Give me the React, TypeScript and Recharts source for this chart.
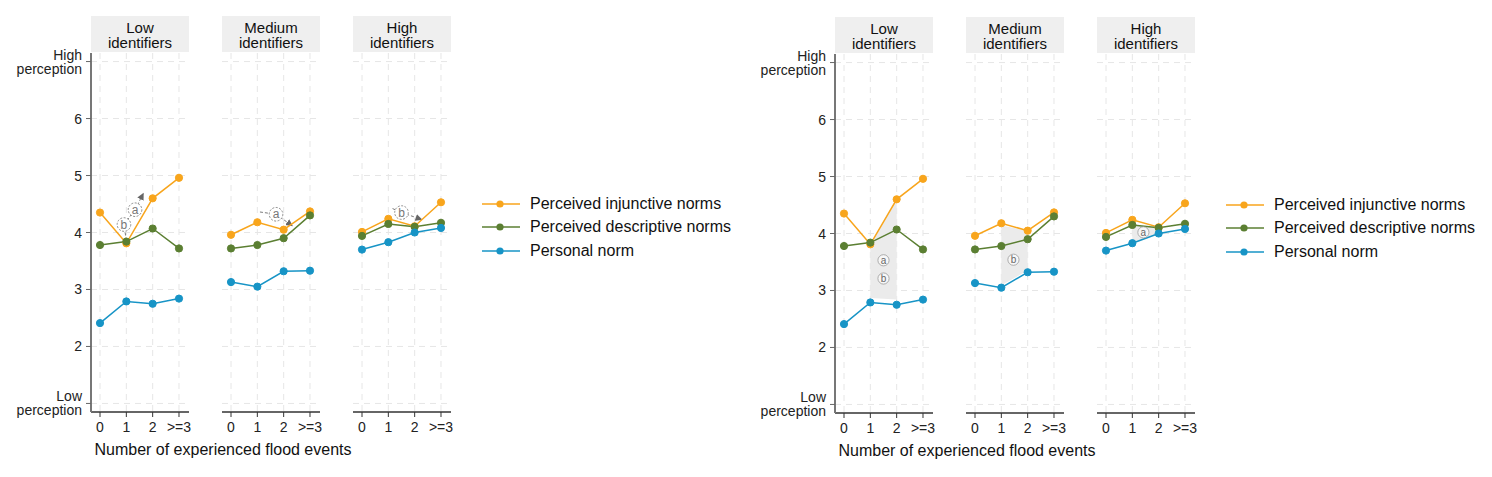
import React from 'react'
import {
  ComposedChart,
  Line,
  Area,
  XAxis,
  YAxis,
  CartesianGrid,
  ReferenceLine,
  ReferenceDot,
} from 'recharts'

const FONT = '"Liberation Sans", Arial, Helvetica, sans-serif'

// ---- data ----
const facetTitles = [
  ['Low', 'identifiers'],
  ['Medium', 'identifiers'],
  ['High', 'identifiers'],
]
const xValues = [0, 1, 2, 3]
const xLabels = ['0', '1', '2', '>=3']
const yTicks = [1, 2, 3, 4, 5, 6, 7]
const yTickLabels: Record<number, string[]> = {
  7: ['High', 'perception'],
  6: ['6'],
  5: ['5'],
  4: ['4'],
  3: ['3'],
  2: ['2'],
  1: ['Low', 'perception'],
}

const injunctive = [
  [4.35, 3.81, 4.6, 4.96],
  [3.96, 4.18, 4.05, 4.37],
  [4.01, 4.24, 4.11, 4.53],
]
const descriptive = [
  [3.78, 3.84, 4.07, 3.72],
  [3.72, 3.78, 3.9, 4.3],
  [3.94, 4.15, 4.1, 4.17],
]
const personal = [
  [2.41, 2.79, 2.75, 2.84],
  [3.13, 3.05, 3.32, 3.33],
  [3.7, 3.83, 4.0, 4.08],
]

// right panel: shaded band between x=1 and x=2, [low, high]
const shadeBands: ([number, number] | null)[][] = [
  [null, [2.87, 3.82], [2.84, 4.6], null],
  [null, [3.09, 4.14], [3.35, 4.05], null],
  [null, [3.83, 4.15], [4.0, 4.1], null],
]
const shadeLabels = [
  { facet: 0, x: 1.5, y: 3.53, label: 'a' },
  { facet: 0, x: 1.5, y: 3.21, label: 'b' },
  { facet: 1, x: 1.46, y: 3.54, label: 'b' },
  { facet: 2, x: 1.42, y: 4.02, label: 'a' },
]

// left panel: dashed arrows with dashed circled letters
const arrowPaths: number[][][] = [
  [[1.0, 3.86], [0.91, 4.14], [1.33, 4.4], [1.64, 4.68]],
  [[1.1, 4.36], [1.71, 4.32], [2.32, 4.12]],
  [[1.16, 4.42], [1.5, 4.35], [2.26, 4.23]],
]
const arrowLabels = [
  { facet: 0, x: 0.91, y: 4.14, label: 'b' },
  { facet: 0, x: 1.33, y: 4.4, label: 'a' },
  { facet: 1, x: 1.71, y: 4.32, label: 'a' },
  { facet: 2, x: 1.5, y: 4.35, label: 'b' },
]

const seriesNames = ['Perceived injunctive norms', 'Perceived descriptive norms', 'Personal norm']
const seriesColors = ['#F8A51C', '#5B7F32', '#1794C6']

// ---- layout ----
const PLOT_W = 98
const PLOT_H = 359
const FACET_STEP = 131
const Y_AXIS_W = 91
const TOP_M = 10
const X_AXIS_H = 30

const panels = [
  { ox: 0, oy: 0, kind: 'arrows' },
  { ox: 744, oy: 1, kind: 'shade' },
]

const YTick = (props: any) => {
  const { x, y, payload } = props
  const words = yTickLabels[payload.value] || [String(payload.value)]
  if (words.length === 2) {
    return (
      <text x={x} y={y} textAnchor="end" fontSize={14} fill="#222" fontFamily={FONT}>
        <tspan x={x} dy={-2}>{words[0]}</tspan>
        <tspan x={x} dy={14}>{words[1]}</tspan>
      </text>
    )
  }
  return (
    <text x={x} y={y} dy={5} textAnchor="end" fontSize={14} fill="#222" fontFamily={FONT}>
      {words[0]}
    </text>
  )
}

const dashedCircle = (label: string) => (p: any) => (
  <g>
    <circle cx={p.cx} cy={p.cy} r={6.8} fill="#fff" stroke="#8a8a8a" strokeWidth={1} strokeDasharray="2 1.5" />
    <text x={p.cx} y={p.cy} dy={4} textAnchor="middle" fontSize={12} fill="#777" fontFamily={FONT}>
      {label}
    </text>
  </g>
)

const solidCircle = (label: string) => (p: any) => (
  <g>
    <circle cx={p.cx} cy={p.cy} r={5.6} fill="#f7f7f7" stroke="#9a9a9a" strokeWidth={0.8} />
    <text x={p.cx} y={p.cy} dy={3.5} textAnchor="middle" fontSize={10} fill="#666" fontFamily={FONT}>
      {label}
    </text>
  </g>
)

const arrowLine = (withHead: boolean) => (p: any) => (
  <line
    x1={p.x1}
    y1={p.y1}
    x2={p.x2}
    y2={p.y2}
    stroke="#7a7a7a"
    strokeWidth={1}
    strokeDasharray="3 2"
    markerEnd={withHead ? 'url(#arrowHead)' : undefined}
  />
)

const Facet = ({ panel, idx }: { panel: (typeof panels)[number]; idx: number }) => {
  const first = idx === 0
  const left = panel.ox + (first ? 0 : Y_AXIS_W + FACET_STEP * idx)
  const width = (first ? Y_AXIS_W : 0) + PLOT_W + 10
  const data = xValues.map((x, i) => ({
    x,
    inj: injunctive[idx][i],
    desc: descriptive[idx][i],
    pers: personal[idx][i],
    shade: panel.kind === 'shade' ? shadeBands[idx][i] : null,
  }))
  const path = arrowPaths[idx]
  return (
    <div style={{ position: 'absolute', left, top: panel.oy + 53 - TOP_M }}>
      <ComposedChart
        width={width}
        height={TOP_M + PLOT_H + X_AXIS_H}
        data={data}
        margin={{ top: TOP_M, right: 10, bottom: 0, left: 0 }}
        style={{ overflow: 'visible' }}
      >
        <CartesianGrid
          stroke="#e6e6e6"
          strokeDasharray="6 5"
          horizontalValues={yTicks}
          verticalValues={xValues}
        />
        <XAxis
          type="number"
          dataKey="x"
          domain={[-0.342, 3.38]}
          ticks={xValues}
          interval={0}
          allowDataOverflow
          tickFormatter={(v: number) => xLabels[v]}
          height={X_AXIS_H}
          tickSize={5}
          tickMargin={5}
          axisLine={{ stroke: '#333', strokeWidth: 1.5 }}
          tickLine={{ stroke: '#333' }}
          tick={{ fontSize: 14, fill: '#222', fontFamily: FONT }}
        />
        <YAxis
          type="number"
          domain={[0.85, 7.15]}
          ticks={yTicks}
          interval={0}
          allowDataOverflow
          hide={!first}
          width={Y_AXIS_W}
          tickSize={5}
          tickMargin={4}
          axisLine={{ stroke: '#777', strokeWidth: 2 }}
          tickLine={{ stroke: '#666' }}
          tick={<YTick />}
        />
        {panel.kind === 'shade' && (
          <Area
            dataKey="shade"
            type="linear"
            stroke="none"
            fill="#ebebeb"
            fillOpacity={1}
            dot={false}
            activeDot={false}
            isAnimationActive={false}
          />
        )}
        {panel.kind === 'arrows' &&
          path.slice(1).map((pt, k) => (
            <ReferenceLine
              key={`seg-${k}`}
              segment={[
                { x: path[k][0], y: path[k][1] },
                { x: pt[0], y: pt[1] },
              ]}
              shape={arrowLine(k === path.length - 2)}
              ifOverflow="visible"
            />
          ))}
        <Line
          dataKey="inj"
          type="linear"
          stroke={seriesColors[0]}
          strokeWidth={1.5}
          dot={{ r: 3.6, fill: seriesColors[0], stroke: seriesColors[0], strokeWidth: 1 }}
          activeDot={false}
          isAnimationActive={false}
        />
        <Line
          dataKey="desc"
          type="linear"
          stroke={seriesColors[1]}
          strokeWidth={1.5}
          dot={{ r: 3.6, fill: seriesColors[1], stroke: seriesColors[1], strokeWidth: 1 }}
          activeDot={false}
          isAnimationActive={false}
        />
        <Line
          dataKey="pers"
          type="linear"
          stroke={seriesColors[2]}
          strokeWidth={1.5}
          dot={{ r: 3.6, fill: seriesColors[2], stroke: seriesColors[2], strokeWidth: 1 }}
          activeDot={false}
          isAnimationActive={false}
        />
        {panel.kind === 'arrows' &&
          arrowLabels
            .filter((a) => a.facet === idx)
            .map((a, k) => (
              <ReferenceDot key={`al-${k}`} x={a.x} y={a.y} r={7} shape={dashedCircle(a.label)} ifOverflow="visible" />
            ))}
        {panel.kind === 'shade' &&
          shadeLabels
            .filter((a) => a.facet === idx)
            .map((a, k) => (
              <ReferenceDot key={`sl-${k}`} x={a.x} y={a.y} r={6} shape={solidCircle(a.label)} ifOverflow="visible" />
            ))}
      </ComposedChart>
    </div>
  )
}

const Panel = ({ panel }: { panel: (typeof panels)[number] }) => (
  <>
    {facetTitles.map((t, i) => (
      <div
        key={`strip-${i}`}
        style={{
          position: 'absolute',
          left: panel.ox + Y_AXIS_W + FACET_STEP * i,
          top: panel.oy + 16,
          width: PLOT_W,
          height: 36,
          background: '#efefef',
          boxSizing: 'border-box',
          paddingTop: 4,
          textAlign: 'center',
          fontSize: 15,
          lineHeight: '15px',
          color: '#111',
        }}
      >
        {t[0]}
        <br />
        {t[1]}
      </div>
    ))}
    {facetTitles.map((_, i) => (
      <Facet key={`facet-${i}`} panel={panel} idx={i} />
    ))}
    <div
      style={{
        position: 'absolute',
        left: panel.ox + 92,
        top: panel.oy + 441,
        width: 262,
        textAlign: 'center',
        fontSize: 16,
        lineHeight: '18px',
        color: '#111',
        whiteSpace: 'nowrap',
      }}
    >
      Number of experienced flood events
    </div>
    {seriesNames.map((name, i) => (
      <div
        key={`leg-${i}`}
        style={{
          position: 'absolute',
          left: panel.ox + 482,
          top: panel.oy + 193.5 + i * 23.8,
          height: 20,
          display: 'flex',
          alignItems: 'center',
          whiteSpace: 'nowrap',
          fontSize: 16,
          color: '#111',
        }}
      >
        <svg width={48} height={20}>
          <line x1={0} y1={10} x2={38} y2={10} stroke={seriesColors[i]} strokeWidth={1.5} />
          <circle cx={18} cy={10} r={3.6} fill={seriesColors[i]} />
        </svg>
        <span>{name}</span>
      </div>
    ))}
  </>
)

export default function App() {
  return (
    <div
      style={{
        position: 'absolute',
        left: 0,
        top: 0,
        width: 1492,
        height: 477,
        background: '#fff',
        fontFamily: FONT,
        overflow: 'hidden',
      }}
    >
      <svg width={0} height={0} style={{ position: 'absolute' }}>
        <defs>
          <marker
            id="arrowHead"
            markerWidth={8}
            markerHeight={8}
            refX={6}
            refY={4}
            orient="auto"
            markerUnits="userSpaceOnUse"
          >
            <path d="M0,0.5 L7,4 L0,7.5 z" fill="#666" />
          </marker>
        </defs>
      </svg>
      {panels.map((p, i) => (
        <Panel key={`panel-${i}`} panel={p} />
      ))}
    </div>
  )
}
